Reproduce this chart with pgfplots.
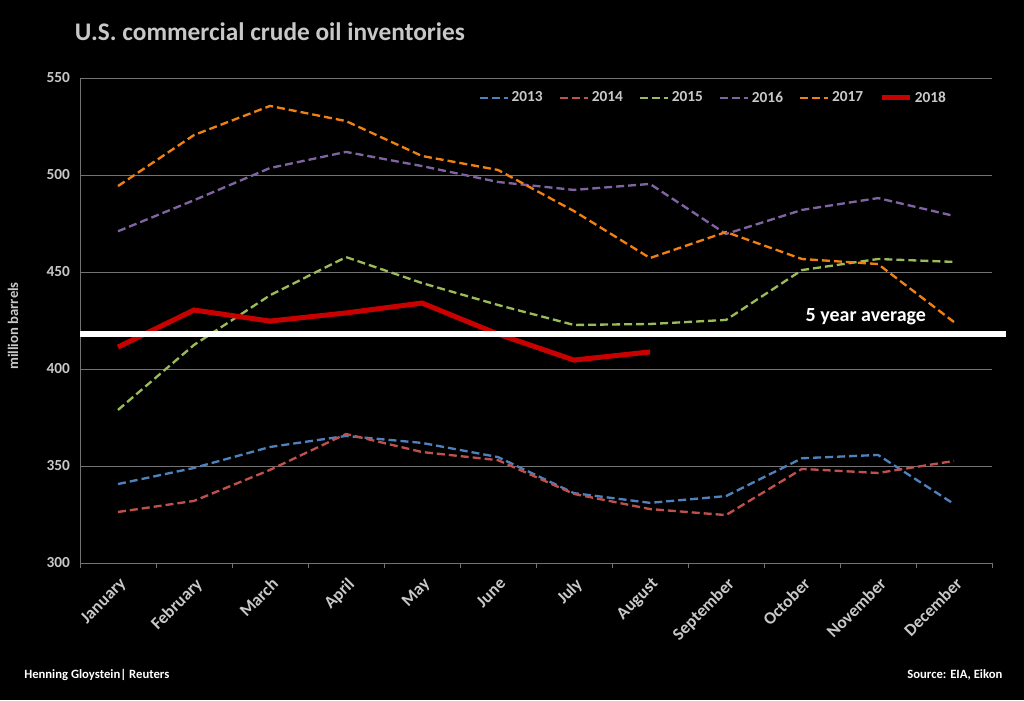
\documentclass[border=0pt]{standalone}
\usepackage{pgfplots}
\pgfplotsset{compat=1.18}
\usepackage{fontspec}
\setmainfont{Carlito}
\definecolor{c13}{RGB}{79,129,189}
\definecolor{c14}{RGB}{192,80,77}
\definecolor{c15}{RGB}{155,187,89}
\definecolor{c16}{RGB}{128,100,162}
\definecolor{c17}{RGB}{240,128,20}
\definecolor{c18}{RGB}{200,0,0}
\definecolor{txtgray}{RGB}{200,200,200}
\definecolor{gridgray}{RGB}{115,115,115}

\begin{document}
\begin{tikzpicture}
\fill[black] (0,0) rectangle (768pt,525pt);
\node[anchor=west, text=txtgray, font=\bfseries\fontsize{19}{22}\selectfont, inner sep=0pt] at (56pt,501pt) {U.S. commercial crude oil inventories};
\node[rotate=90, text=txtgray, font=\bfseries\fontsize{11}{13}\selectfont, inner sep=0pt] at (9.75pt,280.5pt) {million barrels};
\node[anchor=west, text=white, font=\bfseries\fontsize{9.5}{11}\selectfont, inner sep=0pt] at (18pt,18.75pt) {Henning Gloystein| Reuters};
\node[anchor=east, text=white, font=\bfseries\fontsize{9.5}{11}\selectfont, inner sep=0pt] at (752pt,18.75pt) {Source: EIA, Eikon};

\begin{axis}[
    at={(60pt,102.75pt)}, anchor=south west,
    width=684pt, height=363.75pt, scale only axis,
    xmin=0.5, xmax=12.5, ymin=300, ymax=550,
    axis x line=bottom, axis y line=left,
    axis line style={-, draw=gridgray},
    xtick={0.5,1.5,...,12.5},
    x tick label as interval,
    xticklabels={January,February,March,April,May,June,July,August,September,October,November,December},
    xticklabel style={xshift=0.5pt, yshift=-4.6pt, rotate=45, anchor=north east, text=txtgray, font=\bfseries\fontsize{13}{15}\selectfont, inner sep=1pt},
    x tick style={draw=gridgray},
    tick align=outside, major tick length=4pt,
    ytick={300,350,...,550},
    y tick style={draw=none},
    /pgf/number format/assume math mode=true,
    yticklabel style={text=txtgray, font=\bfseries\fontsize{11.5}{13}\selectfont},
    ymajorgrids, grid style={draw=gridgray, line width=0.6pt},
    clip=false,
    legend columns=6,
    legend style={draw=none, fill=none, text=txtgray, font=\bfseries\fontsize{11.5}{13}\selectfont,
        at={(0.957,0.959)}, anchor=east,
        /tikz/every even column/.append style={column sep=10pt}},
    legend image code/.code={\draw[#1] (0pt,0pt) -- (21pt,0pt);},
    every axis plot/.append style={line width=1.75pt, dash pattern=on 6pt off 3pt},
]
\addplot[c13] coordinates {(1,340.7) (2,349) (3,359.8) (4,365.5) (5,361.9) (6,354.6) (7,336) (8,331) (9,334.5) (10,354) (11,355.7) (12,330.4)};
\addlegendentry{2013}
\addplot[c14] coordinates {(1,326.3) (2,332) (3,348) (4,366.5) (5,357.2) (6,353) (7,335.6) (8,327.8) (9,324.7) (10,348.5) (11,346.4) (12,352.6)};
\addlegendentry{2014}
\addplot[c15] coordinates {(1,378.9) (2,412.4) (3,438) (4,457.7) (5,444.3) (6,433) (7,422.7) (8,423.2) (9,425.3) (10,451) (11,456.7) (12,455.2)};
\addlegendentry{2015}
\addplot[c16] coordinates {(1,471) (2,487) (3,503.6) (4,511.9) (5,504.6) (6,496.4) (7,492.3) (8,495.4) (9,469.6) (10,482) (11,488.1) (12,478.9)};
\addlegendentry{2016}
\addplot[c17] coordinates {(1,494.3) (2,520.6) (3,535.6) (4,527.8) (5,509.8) (6,502.6) (7,481.4) (8,457.2) (9,470.6) (10,456.7) (11,454.1) (12,424.2)};
\addlegendentry{2017}
\addplot[c18, line width=3.75pt, solid] coordinates {(1,411.3) (2,430.4) (3,424.7) (4,428.9) (5,434) (6,418) (7,404.6) (8,408.8)};
\addlegendentry{2018}
\addplot[white, line width=4.5pt, solid, forget plot] coordinates {(0.5,418) (12.69,418)};
\node[text=white, font=\bfseries\fontsize{15}{17}\selectfont] at (axis cs:10.84,426.8) {5 year average};
\end{axis}
\end{tikzpicture}
\end{document}
